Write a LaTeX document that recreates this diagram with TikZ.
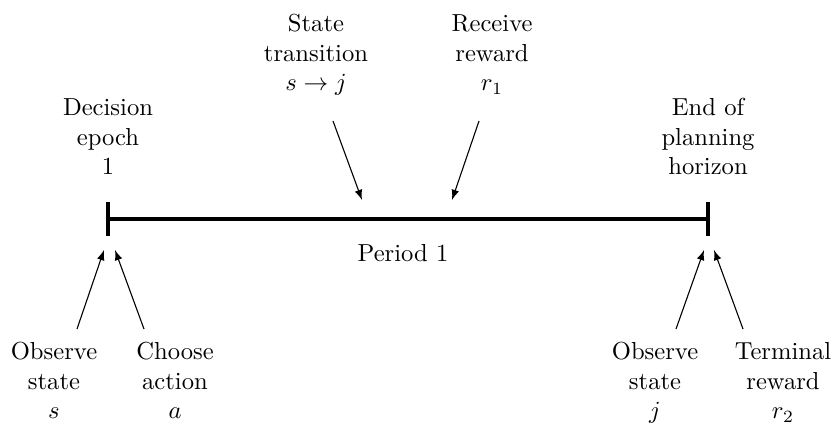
\documentclass[tikz,border=0pt]{standalone}
\usetikzlibrary{arrows}
\begin{document}
\begin{tikzpicture}[x=0.4065pt,y=-0.4065pt,
  lbl/.style={align=center,anchor=base,inner sep=0pt},
  timeline/.style={line width=1.35pt},
  ev/.style={-latex,line width=0.45pt}]
\useasboundingbox (0,0) rectangle (835,423);
% timeline
\coordinate (L) at (108,219);
\coordinate (R) at (708,219);
\coordinate (Lt) at (108,202); \coordinate (Lb) at (108,236);
\coordinate (Rt) at (708,202); \coordinate (Rb) at (708,236);
\draw[timeline] (L) -- (R);
\draw[timeline] (Lt) -- (Lb);
\draw[timeline] (Rt) -- (Rb);
% labels (anchor base = baseline of the last line)
\node[lbl] (dec) at (108,175) {Decision\\epoch\\1};
\node[lbl] (end) at (708,175) {End of\\planning\\horizon};
\node[lbl] (st) at (316,91) {State\\transition\\$s\to j$};
\node[lbl] (rr) at (492,91) {Receive\\reward\\$r_1$};
\node[lbl] (per) at (403,262) {Period 1};
\node[lbl] (os) at (54,419) {Observe\\state\\$s$};
\node[lbl] (ca) at (175,419) {Choose\\action\\$a$};
\node[lbl] (oj) at (655,419) {Observe\\state\\$j$};
\node[lbl] (tr) at (783,419) {Terminal\\reward\\$r_2$};
% arrow ends
\coordinate (st1) at (333,121); \coordinate (st2) at (362,200);
\coordinate (rr1) at (479,121); \coordinate (rr2) at (452,200);
\coordinate (os1) at (77,329);  \coordinate (os2) at (104,250);
\coordinate (ca1) at (144,329); \coordinate (ca2) at (115,250);
\coordinate (oj1) at (676,329); \coordinate (oj2) at (704,250);
\coordinate (tr1) at (743,329); \coordinate (tr2) at (714,250);
\draw[ev] (st1) -- (st2);
\draw[ev] (rr1) -- (rr2);
\draw[ev] (os1) -- (os2);
\draw[ev] (ca1) -- (ca2);
\draw[ev] (oj1) -- (oj2);
\draw[ev] (tr1) -- (tr2);
\end{tikzpicture}
\end{document}
